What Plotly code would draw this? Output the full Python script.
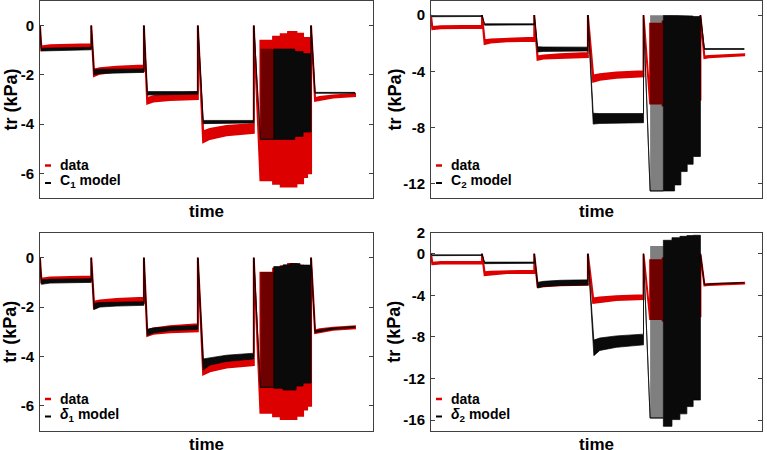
import plotly.graph_objects as go

# ---------------- data ----------------
# time in arbitrary units (axis runs 0..100); each series stored as upper / lower envelope
data_t  = [0, 0.4, 3, 15.4, 15.4, 16.2, 18, 23, 31.2, 31.2, 32.2, 34, 39, 47.4, 47.4, 49.0, 51, 56, 64.2, 64.2,
           66.2, 66.2, 70, 70, 72.3, 72.3, 74.5, 74.5, 77, 77, 79, 79, 80.2, 80.2, 81.4, 81.4, 82.6, 84, 88, 94.6]
data_hi = [0, -0.85, -0.8, -0.76, 0, -1.78, -1.73, -1.67, -1.62, 0, -2.95, -2.87, -2.78, -2.7, 0, -4.3, -4.2, -4.08, -4.0, 0,
           -6.28, -0.61, -0.61, -0.45, -0.45, -0.35, -0.35, -0.26, -0.26, -0.33, -0.33, -0.5, -0.5, -0.5, -0.5, 0,
           -2.95, -2.9, -2.84, -2.78]
data_lo = [0, -1.0, -0.93, -0.9, 0, -2.05, -1.95, -1.86, -1.82, 0, -3.17, -3.08, -3.02, -2.98, 0, -4.73, -4.6, -4.45, -4.35, 0,
           -6.28, -6.28, -6.28, -6.42, -6.42, -6.53, -6.53, -6.53, -6.53, -6.4, -6.4, -6.15, -6.15, -6.0, -6.0, 0,
           -3.05, -3.0, -2.92, -2.86]

c1_t  = [0, 0.4, 15.4, 15.4, 16.2, 18, 31.2, 31.2, 32.2, 47.4, 47.4, 49.0, 64.2, 64.2, 66.2, 70.2, 70.2,
         76.5, 76.5, 79, 79, 81.4, 81.4, 82.6, 94.6]
c1_hi = [0, -0.92, -0.88, 0, -1.8, -1.77, -1.76, 0, -2.68, -2.68, 0, -3.85, -3.85, 0, -4.62, -4.62, -0.95,
         -0.95, -1.05, -1.05, -1.14, -1.14, 0, -2.71, -2.71]
c1_lo = [0, -1.03, -0.98, 0, -2.0, -1.94, -1.9, 0, -2.82, -2.78, 0, -3.98, -3.95, 0, -4.62, -4.62, -4.62,
         -4.62, -4.5, -4.5, -4.32, -4.32, 0, -2.75, -2.75]

c2_t  = [0, 0.4, 15.4, 15.4, 16.2, 31.2, 31.2, 32.2, 34, 47.4, 47.4, 49.0, 51, 64.2, 64.2, 66.2, 70.2, 70.2,
         73.6, 73.6, 75.5, 75.5, 77.4, 77.4, 79.2, 79.2, 81.4, 81.4, 82.6, 94.6]
c2_hi = [0, -0.04, -0.04, 0, -0.62, -0.62, 0, -2.25, -2.27, -2.28, 0, -6.98, -7.0, -7.0, 0, -12.5, -12.5, -0.03,
         -0.03, -0.03, -0.03, -0.05, -0.05, -0.07, -0.07, -0.1, -0.1, 0, -2.38, -2.38]
c2_lo = [0, -0.12, -0.1, 0, -0.72, -0.7, 0, -2.62, -2.58, -2.55, 0, -7.75, -7.7, -7.65, 0, -12.5, -12.5, -12.5,
         -12.5, -12.07, -12.07, -11.12, -11.12, -10.6, -10.6, -10.05, -10.05, 0, -2.44, -2.44]

d1_t  = [0, 0.4, 3, 15.4, 15.4, 16.2, 18, 23, 31.2, 31.2, 32.2, 34, 39, 47.4, 47.4, 49.0, 51, 56, 64.2, 64.2,
         66.2, 70.2, 70.2, 73.0, 73.0, 75.1, 75.1, 76.9, 76.9, 78.1, 78.1, 79.0, 79.0, 81.4, 81.4, 82.6, 84, 88, 94.6]
d1_hi = [0, -0.9, -0.87, -0.85, 0, -1.85, -1.82, -1.8, -1.78, 0, -2.9, -2.85, -2.8, -2.75, 0, -4.1, -4.05, -3.95, -3.87, 0,
         -5.25, -5.25, -0.36, -0.36, -0.29, -0.29, -0.24, -0.24, -0.24, -0.24, -0.3, -0.3, -0.3, -0.3, 0,
         -2.97, -2.92, -2.85, -2.79]
d1_lo = [0, -1.08, -1.03, -1.0, 0, -2.1, -2.0, -1.96, -1.93, 0, -3.15, -3.05, -2.95, -2.9, 0, -4.55, -4.35, -4.2, -4.1, 0,
         -5.25, -5.25, -5.29, -5.29, -5.36, -5.36, -5.36, -5.36, -5.2, -5.2, -5.2, -5.2, -5.08, -5.08, 0,
         -3.03, -2.98, -2.9, -2.83]

d2_t  = [0, 0.4, 15.4, 15.4, 16.2, 31.2, 31.2, 32.2, 34, 39, 47.4, 47.4, 49.2, 51, 56, 64.2, 64.2, 66.2, 70.2, 70.2,
         72.8, 72.8, 75.2, 75.2, 77.3, 77.3, 79.2, 79.2, 81.4, 81.4, 82.6, 84, 88, 94.6]
d2_hi = [0, -0.1, -0.1, 0, -0.8, -0.8, 0, -2.75, -2.65, -2.55, -2.5, 0, -8.3, -8.1, -7.9, -7.73, 0, -15.8, -15.8, 1.3,
         1.3, 1.55, 1.55, 1.68, 1.68, 1.75, 1.75, 1.78, 1.78, 0, -2.95, -2.9, -2.84, -2.78]
d2_lo = [0, -0.18, -0.16, 0, -0.95, -0.92, 0, -3.3, -3.15, -3.05, -3.0, 0, -9.8, -9.3, -9.0, -8.76, 0, -15.8, -15.8, -16.6,
         -16.6, -15.95, -15.95, -15.4, -15.4, -14.7, -14.7, -14.07, -14.07, 0, -3.0, -2.95, -2.88, -2.82]

# first, sparsely sampled oscillation cycles of each model (drawn translucent)
stripe_t  = [66.2, 70.2]
c1_stripe = [-0.94, -4.62]
c2_stripe = [-0.02, -12.5]
d1_stripe = [-0.58, -5.25]
d2_stripe = [0.75, -15.8]

model_names = ["C<sub>1</sub> model", "C<sub>2</sub> model", "<i>δ</i><sub>1</sub> model", "<i>δ</i><sub>2</sub> model"]
yticks_small = [-6, -4, -2, 0]
yticks_c2 = [-12, -8, -4, 0]
yticks_d2 = [-16, -12, -8, -4, 0, 2]

# ---------------- figure ----------------
RED = "#dc0000"
W, H = 767, 450
FONT = "Liberation Sans, Arial, Helvetica, sans-serif"

def band(t, hi, lo):
    x = list(t) + list(t)[::-1] + [t[0]]
    y = list(hi) + list(lo)[::-1] + [hi[0]]
    return x, y

panels = [
    # model arrays, stripe, yrange, ticks, x-dom(px), y-dom(px)
    (c1_t, c1_hi, c1_lo, c1_stripe, [-7, 1], yticks_small, (40, 373), (1, 198)),
    (c2_t, c2_hi, c2_lo, c2_stripe, [-13, 1], yticks_c2, (431, 762), (1, 198)),
    (d1_t, d1_hi, d1_lo, d1_stripe, [-7, 1], yticks_small, (40, 373), (233, 430.5)),
    (d2_t, d2_hi, d2_lo, d2_stripe, [-17, 2], yticks_d2, (431, 762), (233, 430.5)),
]

fig = go.Figure()
annotations = []
shapes = []
axcol = "#404040"

for i, (mt, mhi, mlo, stripe, yr, ticks, xd, yd) in enumerate(panels):
    n = "" if i == 0 else str(i + 1)
    xa, ya = "x" + n, "y" + n
    # data band
    x, y = band(data_t, data_hi, data_lo)
    fig.add_trace(go.Scatter(x=x, y=y, xaxis=xa, yaxis=ya, mode="lines", fill="toself",
                             fillcolor=RED, line=dict(color=RED, width=2.0), hoverinfo="skip",
                             showlegend=False))
    # model band
    x, y = band(mt, mhi, mlo)
    fig.add_trace(go.Scatter(x=x, y=y, xaxis=xa, yaxis=ya, mode="lines", fill="toself",
                             fillcolor="#0a0a0a", line=dict(color="rgba(0,0,0,0.7)", width=1),
                             hoverinfo="skip", showlegend=False))
    # translucent first oscillation cycles of the model
    sx = [stripe_t[0], stripe_t[1], stripe_t[1], stripe_t[0], stripe_t[0]]
    sy = [stripe[0], stripe[0], stripe[1], stripe[1], stripe[0]]
    fig.add_trace(go.Scatter(x=sx, y=sy, xaxis=xa, yaxis=ya, mode="lines", fill="toself",
                             fillcolor="rgba(0,0,0,0.5)", line=dict(width=0), hoverinfo="skip",
                             showlegend=False))

    xdom = [xd[0] / W, xd[1] / W]
    ydom = [1 - yd[1] / H, 1 - yd[0] / H]
    fig.layout["xaxis" + n] = dict(domain=xdom, range=[0, 100], anchor=ya, showline=True, mirror=True,
                                   linecolor=axcol, linewidth=1, ticks="", showticklabels=False,
                                   showgrid=False, zeroline=False, automargin=False)
    fig.layout["yaxis" + n] = dict(domain=ydom, range=yr, anchor=xa, showline=True, mirror="ticks",
                                   linecolor=axcol, linewidth=1, ticks="inside", ticklen=4,
                                   tickcolor=axcol, tickvals=ticks, ticktext=[str(v) for v in ticks],
                                   tickfont=dict(family=FONT, size=15, color="black", weight="bold"),
                                   ticklabelstandoff=2, automargin=False,
                                   showgrid=False, zeroline=False)

    # axis titles
    annotations.append(dict(text="<b>time</b>", xref="paper", yref="paper",
                            x=(xd[0] + xd[1]) / 2 / W, y=1 - (yd[1] + 14) / H,
                            xanchor="center", yanchor="middle", showarrow=False,
                            font=dict(family=FONT, size=17, color="black")))
    annotations.append(dict(text="<b>tr (kPa)</b>", xref="paper", yref="paper",
                            x=(xd[0] - 30 if xd[0] < 100 else xd[0] - 37) / W,
                            y=1 - (yd[0] + yd[1]) / 2 / H, textangle=-90,
                            xanchor="center", yanchor="middle", showarrow=False,
                            font=dict(family=FONT, size=18, color="black")))
    # legend
    ph = yd[1] - yd[0]
    pw = xd[1] - xd[0]
    for k, (label, col, yy) in enumerate([("data", RED, 165.5), (model_names[i], "black", 181.0)]):
        ypx = yy if yd[0] < 100 else yy + 233.5
        fy = (yd[1] - ypx) / ph
        annotations.append(dict(text="<b>" + label + "</b>", xref=xa + " domain", yref=ya + " domain",
                                x=18 / pw, y=fy, xanchor="left", yanchor="middle", showarrow=False,
                                font=dict(family=FONT, size=14, color="black")))
        sy_ = fy - (0.0 if k == 0 else 2.0 / ph)
        shapes.append(dict(type="line", xref=xa + " domain", yref=ya + " domain",
                           x0=5 / pw, x1=11 / pw, y0=sy_, y1=sy_,
                           line=dict(color=col, width=2.5 if k == 0 else 2)))

fig.update_layout(width=W, height=H, margin=dict(l=0, r=0, t=0, b=0, pad=0, autoexpand=False),
                  autosize=False,
                  plot_bgcolor="white", paper_bgcolor="white",
                  annotations=annotations, shapes=shapes, showlegend=False,
                  font=dict(family=FONT))

post = ("document.documentElement.style.margin='0';document.body.style.margin='0';"
        "document.body.style.padding='0';document.body.style.overflow='hidden';"
        "var gd=document.getElementsByClassName('plotly-graph-div')[0];"
        "gd.style.position='absolute';gd.style.top='0px';gd.style.left='0px';")
fig.write_html("out.html", config={"displayModeBar": False}, post_script=post)
